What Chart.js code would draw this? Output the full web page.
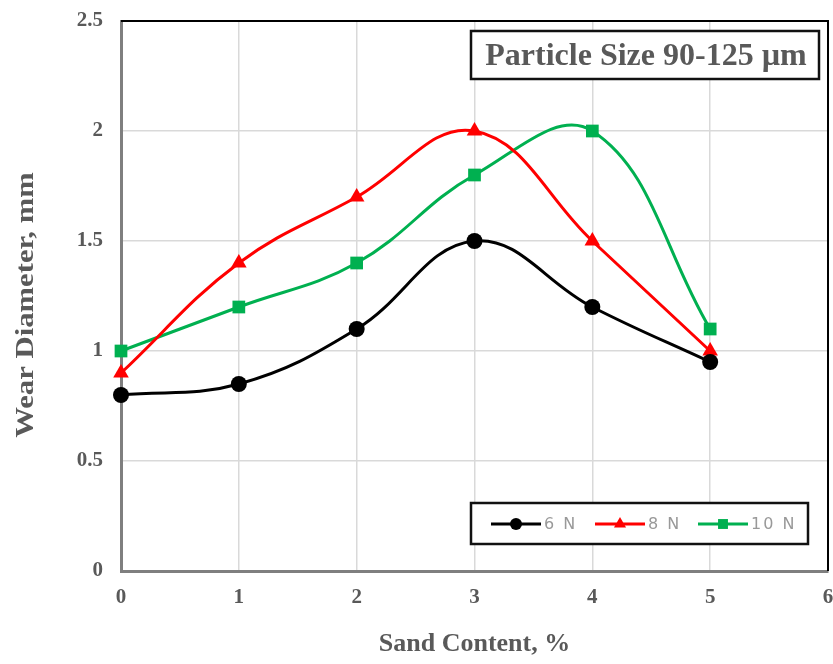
<!DOCTYPE html>
<html>
<head>
<meta charset="utf-8">
<script src="https://cdn.jsdelivr.net/npm/chart.js@4"></script>
<style>
  html, body { margin: 0; padding: 0; background: #fff; }
  #wrap { width: 833px; height: 664px; }
</style>
</head>
<body>
<div id="wrap"><canvas id="wearChart" width="833" height="664"></canvas></div>
<script>
// sand content (%) and wear diameter (mm) per load
const sandContent = [0, 1, 2, 3, 4, 5];
const wear6N = [0.8, 0.85, 1.1, 1.5, 1.2, 0.95];
const wear8N = [0.9, 1.4, 1.7, 2.0, 1.5, 1.0];
const wear10N = [1.0, 1.2, 1.4, 1.8, 2.0, 1.1];
const seriesLabels = ['6 N', '8 N', '10 N'];
const boxTitle = 'Particle Size 90-125 \u00b5m';
const xTitle = 'Sand Content, %';
const yTitle = 'Wear Diameter, mm';

const serif = "'Liberation Serif', 'Times New Roman', serif";
const tickGrey = '#595959';

function points(ys) {
    return sandContent.map((x, i) => ({ x: x, y: ys[i] }));
}

function series(label, ys, color, shape, size) {
    return {
        label: label,
        data: points(ys),
        showLine: true,
        borderColor: color,
        backgroundColor: color,
        borderWidth: 3,
        tension: 0.4,
        pointStyle: shape,
        pointRadius: size,
        pointHoverRadius: size,
        pointBorderWidth: 0,
        clip: 12
    };
}

// frame, y title, title box and legend box
const decor = {
    id: 'decor',
    afterDraw(chart) {
        const ctx = chart.ctx;
        const a = chart.chartArea;
        ctx.save();
        ctx.strokeStyle = '#000';
        ctx.lineWidth = 2;
        ctx.beginPath();
        ctx.moveTo(a.left, a.top);
        ctx.lineTo(a.right, a.top);
        ctx.lineTo(a.right, a.bottom);
        ctx.stroke();

        // y title (source image is a bit stretched vertically)
        ctx.save();
        ctx.translate(26, 305);
        ctx.rotate(-Math.PI / 2);
        ctx.scale(1.18, 1);
        ctx.fillStyle = tickGrey;
        ctx.font = 'bold 26px ' + serif;
        ctx.textAlign = 'center';
        ctx.textBaseline = 'middle';
        ctx.fillText(yTitle, 0, 0);
        ctx.restore();

        // title box
        ctx.lineWidth = 2.5;
        ctx.strokeStyle = '#111';
        ctx.fillStyle = '#fff';
        ctx.fillRect(471, 31, 348, 48);
        ctx.strokeRect(471, 31, 348, 48);
        ctx.fillStyle = tickGrey;
        ctx.font = 'bold 32px ' + serif;
        ctx.textAlign = 'center';
        ctx.textBaseline = 'middle';
        ctx.fillText(boxTitle, 646, 57);

        // legend box
        ctx.fillStyle = '#fff';
        ctx.fillRect(471, 503, 337, 41);
        ctx.strokeRect(471, 503, 337, 41);
        const starts = [491, 595, 698];
        ctx.font = '16px "DejaVu Sans", sans-serif';
        ctx.letterSpacing = '2px';
        ctx.textAlign = 'left';
        chart.data.datasets.forEach((ds, i) => {
            const x0 = starts[i];
            const y0 = 524;
            ctx.strokeStyle = ds.borderColor;
            ctx.lineWidth = 3;
            ctx.beginPath();
            ctx.moveTo(x0, y0);
            ctx.lineTo(x0 + 50, y0);
            ctx.stroke();
            ctx.fillStyle = ds.backgroundColor;
            Chart.helpers.drawPoint(ctx, {
                pointStyle: ds.pointStyle,
                radius: ds.pointStyle === 'circle' ? 6 : 7,
                borderWidth: 0
            }, x0 + 25, y0);
            ctx.fillStyle = '#999';
            ctx.fillText(ds.label, x0 + 53, y0 + 1);
        });
        ctx.restore();
    }
};

new Chart(document.getElementById('wearChart'), {
    type: 'scatter',
    data: {
        datasets: [
            series(seriesLabels[0], wear6N, '#000000', 'circle', 8),
            series(seriesLabels[1], wear8N, '#ff0000', 'triangle', 9),
            series(seriesLabels[2], wear10N, '#00b050', 'rect', 9)
        ]
    },
    options: {
        responsive: false,
        animation: false,
        layout: { autoPadding: false, padding: { left: 0, top: 21, right: 5, bottom: 0 } },
        plugins: {
            legend: { display: false },
            title: { display: false },
            tooltip: { enabled: false }
        },
        scales: {
            x: {
                type: 'linear',
                min: 0,
                max: 6,
                afterFit(scale) {
                    scale.height = 93;
                    scale.paddingRight = 0;
                    scale.paddingLeft = 0;
                },
                ticks: {
                    stepSize: 1,
                    color: tickGrey,
                    padding: 14,
                    font: { family: serif, size: 21, weight: 'bold' }
                },
                grid: { color: '#d9d9d9', lineWidth: 1.5, drawTicks: false },
                border: { color: '#7f7f7f', width: 3 },
                title: {
                    display: true,
                    text: xTitle,
                    color: tickGrey,
                    padding: { top: 18 },
                    font: { family: serif, size: 26, weight: 'bold' }
                }
            },
            y: {
                min: 0,
                max: 2.5,
                afterFit(scale) {
                    scale.width = 121;
                    scale.paddingTop = 0;
                    scale.paddingBottom = 0;
                },
                ticks: {
                    stepSize: 0.5,
                    color: tickGrey,
                    padding: 18,
                    font: { family: serif, size: 21, weight: 'bold' },
                    callback: (v) => String(v)
                },
                grid: { color: '#d9d9d9', lineWidth: 1.5, drawTicks: false },
                border: { color: '#7f7f7f', width: 3 },
                title: { display: false }
            }
        }
    },
    plugins: [decor]
});
</script>
</body>
</html>
